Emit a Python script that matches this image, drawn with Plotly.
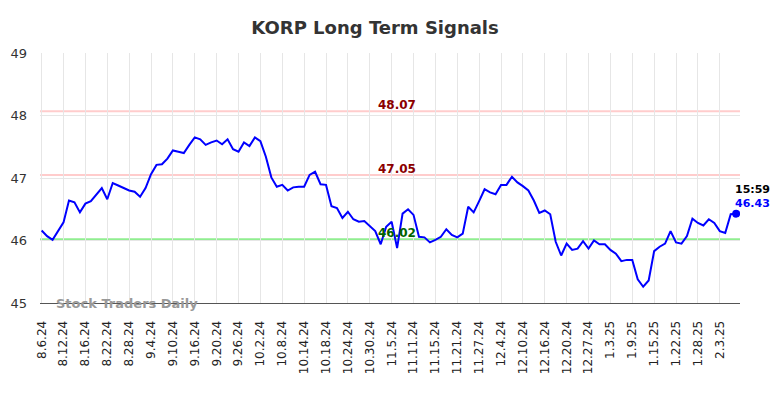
import plotly.graph_objects as go

dates = [
    "8.6.24","8.7.24","8.8.24","8.9.24","8.12.24","8.13.24","8.14.24","8.15.24","8.16.24","8.19.24",
    "8.20.24","8.21.24","8.22.24","8.23.24","8.26.24","8.27.24","8.28.24","8.29.24","8.30.24",
    "9.3.24","9.4.24","9.5.24","9.6.24","9.9.24","9.10.24","9.11.24","9.12.24","9.13.24","9.16.24",
    "9.17.24","9.18.24","9.19.24","9.20.24","9.23.24","9.24.24","9.25.24","9.26.24","9.27.24","9.30.24",
    "10.1.24","10.2.24","10.3.24","10.4.24","10.7.24","10.8.24","10.9.24","10.10.24","10.11.24","10.14.24",
    "10.15.24","10.16.24","10.17.24","10.18.24","10.21.24","10.22.24","10.23.24","10.24.24","10.25.24",
    "10.28.24","10.29.24","10.30.24","10.31.24",
    "11.1.24","11.4.24","11.5.24","11.6.24","11.7.24","11.8.24","11.11.24","11.12.24","11.13.24","11.14.24",
    "11.15.24","11.18.24","11.19.24","11.20.24","11.21.24","11.22.24","11.25.24","11.26.24","11.27.24","11.29.24",
    "12.2.24","12.3.24","12.4.24","12.5.24","12.6.24","12.9.24","12.10.24","12.11.24","12.12.24","12.13.24",
    "12.16.24","12.17.24","12.18.24","12.19.24","12.20.24","12.23.24","12.24.24","12.26.24","12.27.24",
    "12.30.24","12.31.24",
    "1.2.25","1.3.25","1.6.25","1.7.25","1.8.25","1.9.25","1.10.25","1.13.25","1.14.25","1.15.25",
    "1.16.25","1.17.25","1.21.25","1.22.25","1.23.25","1.24.25","1.27.25","1.28.25","1.29.25","1.30.25","1.31.25",
    "2.3.25","2.4.25","2.5.25","2.6.25",
]

prices = [
    46.16, 46.07, 46.01, 46.16, 46.29, 46.64, 46.61, 46.45, 46.59, 46.63,
    46.74, 46.84, 46.66, 46.92, 46.88, 46.84, 46.80, 46.78, 46.70,
    46.84, 47.06, 47.21, 47.22, 47.31, 47.44, 47.42, 47.40, 47.53, 47.65,
    47.62, 47.53, 47.57, 47.60, 47.54, 47.62, 47.46, 47.42, 47.57, 47.51,
    47.65, 47.59, 47.34, 47.01, 46.86, 46.89, 46.80, 46.85, 46.86, 46.86,
    47.05, 47.10, 46.90, 46.89, 46.55, 46.52, 46.36, 46.46, 46.34,
    46.30, 46.31, 46.23, 46.15,
    45.94, 46.22, 46.30, 45.88, 46.43, 46.50, 46.41, 46.06, 46.05, 45.97,
    46.01, 46.06, 46.18, 46.09, 46.05, 46.11, 46.54, 46.45, 46.63, 46.82,
    46.77, 46.74, 46.89, 46.89, 47.02, 46.93, 46.87, 46.80, 46.64, 46.44,
    46.48, 46.42, 45.98, 45.76, 45.95, 45.85, 45.87, 45.99, 45.87,
    46.00, 45.94,
    45.94, 45.85, 45.79, 45.67, 45.69, 45.69, 45.38, 45.26, 45.36, 45.83,
    45.90, 45.95, 46.15, 45.97, 45.95, 46.07, 46.35, 46.28, 46.24, 46.34, 46.28,
    46.15, 46.12, 46.42, 46.43,
]

tick_labels = dates[::4]
y_ticks = [45, 46, 47, 48, 49]

resistance_levels = [48.07, 47.05]
support_levels = [46.02]
last_time = "15:59"

fig = go.Figure()
fig.add_trace(go.Scatter(
    x=list(range(len(dates))), y=prices, mode="lines",
    line=dict(color="#0000ff", width=2), hoverinfo="skip", showlegend=False,
))
fig.add_trace(go.Scatter(
    x=[len(dates) - 1], y=[prices[-1]], mode="markers",
    marker=dict(color="#0000ff", size=8), showlegend=False,
))

label_x = 65
for lvl in resistance_levels:
    fig.add_hline(y=lvl, line=dict(color="#ffcccc", width=2), layer="below")
    fig.add_annotation(x=label_x, y=lvl, text=f"<b>{lvl:.2f}</b>", showarrow=False,
                       yanchor="bottom", yshift=-3,
                       font=dict(family="DejaVu Sans", size=12, color="#8b0000"))
for lvl in support_levels:
    fig.add_hline(y=lvl, line=dict(color="#90ee90", width=2), layer="below")
    fig.add_annotation(x=label_x, y=lvl, text=f"<b>{lvl:.2f}</b>", showarrow=False,
                       yanchor="bottom", yshift=-3,
                       font=dict(family="DejaVu Sans", size=12, color="#006400"))

fig.add_annotation(x=len(dates) - 1, y=prices[-1], text=f"<b>{last_time}</b>", showarrow=False,
                   xanchor="center", yanchor="middle", xshift=16, yshift=24,
                   font=dict(family="DejaVu Sans", size=11, color="#000000"))
fig.add_annotation(x=len(dates) - 1, y=prices[-1], text=f"<b>{prices[-1]:.2f}</b>", showarrow=False,
                   xanchor="center", yanchor="middle", xshift=16, yshift=10,
                   font=dict(family="DejaVu Sans", size=11, color="#0000ff"))

fig.add_annotation(x=0.02, y=45, xref="paper", text="<b>Stock Traders Daily</b>", showarrow=False,
                   xanchor="left", yanchor="middle",
                   font=dict(family="DejaVu Sans", size=13, color="#999999"))

fig.update_layout(
    width=776, height=390,
    margin=dict(l=32, r=44, t=45, b=95),
    paper_bgcolor="white", plot_bgcolor="white",
    title=dict(text="<b>KORP Long Term Signals</b>", x=0.473, xanchor="center", y=0.95, yanchor="middle",
               font=dict(family="DejaVu Sans", size=18, color="#333333")),
    xaxis=dict(
        range=[-0.3, 127.7], tickmode="array", automargin=False,
        tickvals=list(range(0, len(dates), 4)), ticktext=tick_labels,
        tickangle=-90, showgrid=True, gridcolor="#e6e6e6", gridwidth=1,
        showline=True, linecolor="#555555", linewidth=1, ticks="",
        ticklabelstandoff=12,
        tickfont=dict(family="DejaVu Sans", size=12, color="#222222"), zeroline=False,
    ),
    yaxis=dict(
        range=[45, 49], tickvals=y_ticks, showgrid=True, gridcolor="#e6e6e6", automargin=False,
        zeroline=False, showline=False, ticks="", ticklabelstandoff=12,
        tickfont=dict(family="DejaVu Sans", size=13, color="#333333"),
    ),
)

fig.write_html("out.html")
